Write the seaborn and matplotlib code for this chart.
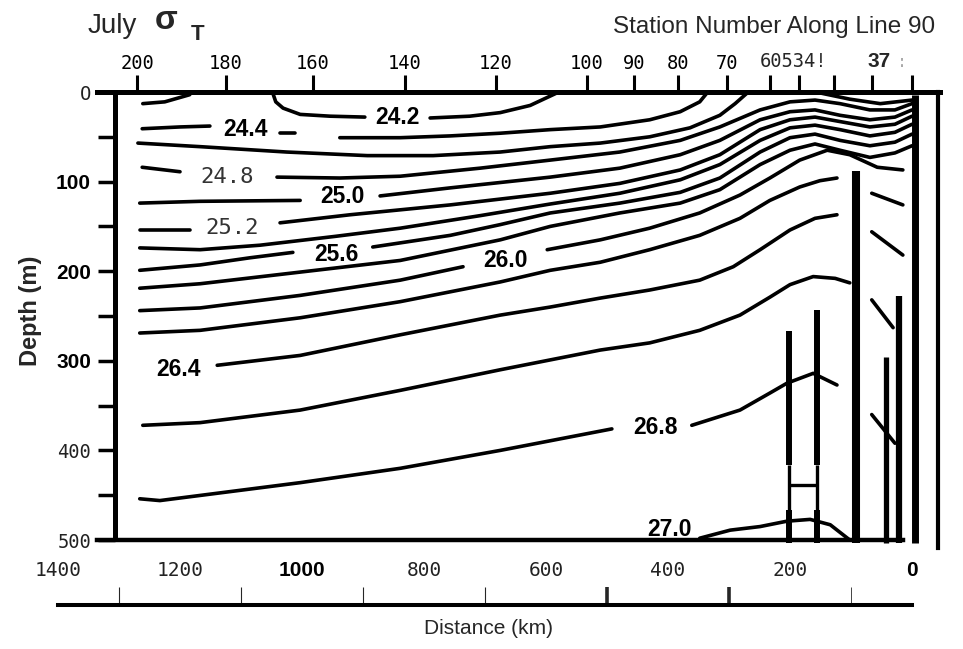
import numpy as np
import pandas as pd
import matplotlib
matplotlib.use("Agg")
import matplotlib.pyplot as plt
import seaborn as sns

nan = np.nan

# ---------------------------------------------------------------------------
# July sigma-t section along CalCOFI line 90
# distance offshore (km) and depth (m) of each isopycnal; NaN splits pieces
# ---------------------------------------------------------------------------
levels = [24.2, 24.4, 24.6, 24.8, 25.0, 25.2, 25.4, 25.6, 25.8,
          26.0, 26.2, 26.4, 26.6, 26.8, 27.0]

s242_km = [1261, 1225, 1184, nan, 1048, 1043, 1031, 1003, 954, 897, nan, 790, 725, 675, 626, 582]
s242_m = [13, 11, 3, nan, 1, 11, 18, 25, 27, 28, nan, 29, 27, 23, 15, 1]

s244_km = [1262, 1200, 1151, nan, 1036, 1011, nan, 938, 839, 757, 675, 593, 511, 430, 380, 348, 336]
s244_m = [41, 39, 38, nan, 46, 46, nan, 51, 51, 49, 46, 42, 39, 31, 22, 11, 1]

s246_km = [1269, 1167, 1025, 893, 785, 675, 593, 511, 430, 364, 315, 290, 270, nan, 151, 102, 52, 0]
s246_m = [57, 61, 67, 71, 71, 67, 61, 57, 50, 40, 26, 13, 1, nan, 1, 8, 13, 9]

s248_km = [1262, 1200, nan, 1041, 938, 839, 708, 593, 479, 380, 315, 249, 200, 159, 118, 69, 28, 0]
s248_m = [84, 89, nan, 95, 96, 94, 85, 76, 67, 54, 39, 20, 11, 9, 13, 20, 20, 13]

s250_km = [1266, 1167, 1003, nan, 872, 757, 593, 479, 380, 315, 249, 200, 159, 118, 69, 28, 0]
s250_m = [124, 122, 121, nan, 116, 107, 95, 85, 70, 54, 31, 22, 20, 26, 31, 28, 20]

s252_km = [1266, 1184, nan, 1036, 921, 757, 593, 479, 380, 315, 249, 200, 159, 118, 69, 28, 0]
s252_m = [154, 154, nan, 146, 137, 126, 113, 102, 87, 70, 42, 31, 28, 33, 39, 36, 27]

s254_km = [1266, 1167, 1069, 944, 839, 708, 593, 479, 380, 315, 249, 200, 159, 118, 69, 28, 0]
s254_m = [174, 176, 171, 161, 152, 138, 125, 113, 98, 81, 54, 40, 37, 42, 49, 45, 36]

s256_km = [1266, 1167, 1085, 1015, nan, 884, 757, 675, 593, 479, 380, 315, 249, 200, 159, 118, 69, 28, 0]
s256_m = [199, 193, 185, 179, nan, 173, 160, 148, 135, 124, 112, 96, 67, 51, 47, 54, 60, 56, 47]

s258_km = [1266, 1167, 1003, 839, 675, 593, 479, 380, 315, 249, 200, 159, 118, 69, 28, 0]
s258_m = [219, 214, 201, 188, 165, 150, 135, 124, 109, 81, 65, 58, 65, 73, 68, 60]

s260_km = [1266, 1167, 1003, 839, 736, nan, 598, 511, 430, 348, 282, 233, 184, 139, 102, 57, 15]
s260_m = [244, 241, 227, 210, 195, nan, 176, 165, 152, 135, 115, 96, 76, 65, 70, 84, 87]

s262_km = [1266, 1167, 1003, 839, 675, 593, 511, 430, 348, 282, 233, 184, 151, 123, nan, 66, 15]
s262_m = [269, 266, 252, 234, 212, 199, 190, 176, 160, 141, 121, 106, 99, 96, nan, 113, 126]

s264_km = [1139, 1003, 839, 675, 593, 511, 430, 348, 293, 249, 200, 159, 123, nan, 66, 15]
s264_m = [305, 294, 271, 249, 240, 230, 221, 210, 195, 176, 154, 141, 137, nan, 156, 182]

s266_km = [1261, 1167, 1003, 839, 675, 593, 511, 430, 348, 282, 233, 200, 162, 126, 102, nan, 66, 31]
s266_m = [372, 369, 355, 333, 310, 299, 288, 280, 266, 249, 229, 215, 206, 208, 213, nan, 232, 263]

s268_km = [1266, 1233, 1003, 839, 675, 492, nan, 361, 282, 233, 205, 162, 123, nan, 66, 28]
s268_m = [454, 456, 436, 420, 400, 376, nan, 372, 355, 336, 325, 314, 327, nan, 360, 392]

s270_km = [348, 298, 249, 205, 167, 134, 102]
s270_m = [498, 489, 485, 479, 477, 483, 500]

# contour labels: level, distance (km), depth (m), typeface
label_level = [24.2, 24.4, 24.8, 25.0, 25.2, 25.6, 26.0, 26.4, 26.8, 27.0]
label_km = [844, 1092, 1123, 934, 1115, 944, 667, 1203, 421, 397]
label_m = [28, 42, 95, 117, 152, 181, 188, 310, 375, 488]
label_mono = [False, False, True, False, True, False, False, False, False, False]

# station casts / bottom markers near the coast
cast_km = [92, -5, 21, 43]
cast_top_m = [88, 3, 228, 296]
cast_lw = [5.8, 5.0, 4.5, 3.8]
pair_km = [202, 156]
pair_top_m = [267, 243]
pair_neck_m = [416, 467]
pair_rung_m = 439
cast_floor_m = 503

# top axis: station numbers
station_km = [1270, 1125, 982, 831, 682, 533, 456, 384, 303, 233, 185, 128, 66, 0]
station_labels = ["200", "180", "160", "140", "120", "100", "90", "80", "70",
                  "", "", "", "", ""]
station_extra_text = ["60534!", "37", ":"]
station_extra_km = [195, 54, 16]

# depth axis
depth_ticks = list(range(0, 501, 50))
depth_labels = ["O", "", "100", "", "200", "", "300", "", "400", "", "500"]
depth_bold = ["100", "200", "300"]

# distance axis
dist_km = [1400, 1200, 1000, 800, 600, 400, 200, 0]
dist_labels = ["1400", "1200", "1000", "800", "600", "400", "200", "0"]
dist_bold = ["1000", "0"]
dist_minor_km = [1300, 1100, 900, 700, 500, 300, 100, 0]
dist_minor_w = [0.8, 0.8, 0.8, 0.8, 2.6, 2.6, 0.6, 3.2]
dist_minor_c = ["#555555", "#555555", "#555555", "#555555", "black", "black", "#999999", "black"]

# ---------------------------------------------------------------------------
sns.set_style("ticks")
plt.rcParams["font.family"] = ["Liberation Sans", "DejaVu Sans"]

W, H = 963, 649
fig = plt.figure(figsize=(W / 100, H / 100), dpi=100)


def fx(px):
    return px / W


def fy(py):
    return 1 - py / H


def km_at(px):
    # horizontal scale of the section: 0 km at x=912 px, 0.61 px per km
    return (912 - px) / 0.61


ax = fig.add_axes([fx(97), fy(540), (940 - 97) / W, (540 - 92) / H])
ax.patch.set_alpha(0)

series = [
    (24.2, s242_km, s242_m), (24.4, s244_km, s244_m), (24.6, s246_km, s246_m),
    (24.8, s248_km, s248_m), (25.0, s250_km, s250_m), (25.2, s252_km, s252_m),
    (25.4, s254_km, s254_m), (25.6, s256_km, s256_m), (25.8, s258_km, s258_m),
    (26.0, s260_km, s260_m), (26.2, s262_km, s262_m), (26.4, s264_km, s264_m),
    (26.6, s266_km, s266_m), (26.8, s268_km, s268_m), (27.0, s270_km, s270_m),
]
rows = []
for lev, kms, ms in series:
    piece = 0
    for k, m in zip(kms, ms):
        if np.isnan(k):
            piece += 1
            continue
        rows.append((lev, f"{lev:.1f}-{piece}", k, m))
df = pd.DataFrame(rows, columns=["sigma", "piece", "km", "m"])

sns.lineplot(data=df, x="km", y="m", units="piece", estimator=None, sort=False,
             color="black", linewidth=2.6, legend=False, ax=ax,
             solid_capstyle="round", solid_joinstyle="round")

# contour labels
for lev, k, m, mono in zip(label_level, label_km, label_m, label_mono):
    if mono:
        ax.text(k, m, f"{lev:.1f}", ha="center", va="center", fontsize=16,
                family="DejaVu Sans Mono", color="#333333")
    else:
        ax.text(k, m, f"{lev:.1f}", ha="center", va="center", fontsize=16.5,
                family="Liberation Sans", weight="bold", color="black")

# station casts
ax.vlines(cast_km, cast_top_m, cast_floor_m, colors="black",
          linewidths=cast_lw, clip_on=False)
ax.vlines(pair_km, pair_top_m, pair_neck_m[0], colors="black", linewidths=4.3)
ax.vlines(pair_km, pair_neck_m[0], pair_neck_m[1], colors="black", linewidths=2.4)
ax.vlines(pair_km, pair_neck_m[1], cast_floor_m, colors="black",
          linewidths=4.3, clip_on=False)
ax.hlines(pair_rung_m, pair_km[0], pair_km[1], colors="black", linewidths=2.4)

ax.set_xlabel("")
ax.set_ylabel("")

# frame
for s in ["top", "bottom", "left", "right"]:
    ax.spines[s].set_visible(True)
    ax.spines[s].set_color("black")
ax.spines["top"].set_linewidth(3.6)
ax.spines["bottom"].set_linewidth(3.2)
ax.spines["bottom"].set_bounds(15, 1336)
ax.spines["left"].set_linewidth(3.6)
ax.spines["left"].set_position(("data", 1307))
ax.spines["left"].set_bounds(0, 497)
ax.spines["right"].set_linewidth(3.0)
ax.spines["right"].set_position(("data", -43))
ax.spines["right"].set_bounds(0, 509)

# top axis: station numbers
ax.xaxis.tick_top()
ax.set_xticks(station_km)
ax.set_xticklabels(station_labels)
ax.tick_params(axis="x", which="major", direction="out", length=12, width=2.2,
               pad=2, labelsize=13.5, top=True, bottom=False, colors="black")
for t in ax.get_xticklabels():
    t.set_fontfamily("DejaVu Sans Mono")

# depth axis
ax.set_yticks(depth_ticks)
ax.set_yticklabels(depth_labels)
ax.tick_params(axis="y", direction="out", length=12, width=2.5, pad=5,
               left=True, right=False, colors="black")
for t, lab in zip(ax.get_yticklabels(), depth_labels):
    if lab in depth_bold:
        t.set_fontfamily("Liberation Sans")
        t.set_fontweight("bold")
        t.set_fontsize(15)
    else:
        t.set_fontfamily("DejaVu Sans Mono")
        t.set_fontsize(13.5)
        t.set_color("#222222")

ax.set_xlim(km_at(97), km_at(940))
ax.set_ylim(500, 0)

for txt, k in zip(station_extra_text, station_extra_km):
    if txt == "37":
        ax.text(k, -34, txt, ha="center", va="center", fontsize=15,
                weight="bold", family="Liberation Sans", clip_on=False)
    elif txt == ":":
        ax.text(k, -34, txt, ha="center", va="center", fontsize=12,
                color="#aaaaaa", family="DejaVu Sans Mono", clip_on=False)
    else:
        ax.text(k, -34, txt, ha="center", va="center", fontsize=13.5,
                family="DejaVu Sans Mono", clip_on=False)

# distance axis below the section
dax = fig.add_axes([fx(30), 0, (940 - 30) / W, fy(605)])
dax.patch.set_alpha(0)
for s in ["left", "right", "bottom"]:
    dax.spines[s].set_visible(False)
dax.spines["top"].set_visible(True)
dax.spines["top"].set_color("black")
dax.spines["top"].set_linewidth(2.9)
dax.spines["top"].set_bounds(0, 1400)
dax.set_yticks([])
dax.xaxis.tick_top()
dax.set_xticks(dist_km)
dax.set_xticklabels(dist_labels)
dax.set_xticks(dist_minor_km, minor=True)
dax.tick_params(axis="x", which="major", length=0, pad=18, labelsize=14,
                colors="black")
dax.tick_params(axis="x", which="minor", direction="out", length=13, width=0.8)
for t, lab in zip(dax.get_xticklabels(), dist_labels):
    if lab in dist_bold:
        t.set_fontfamily("Liberation Sans")
        t.set_fontweight("bold")
        t.set_fontsize(15)
    else:
        t.set_fontfamily("DejaVu Sans Mono")
        t.set_color("#222222")
for tick, w, c in zip(dax.xaxis.get_minor_ticks(), dist_minor_w, dist_minor_c):
    tick.tick2line.set_markeredgewidth(w)
    tick.tick2line.set_color(c)
dax.set_xlim(km_at(30), km_at(940))
dax.set_ylim(0, 1)

fig.text(fx(488), fy(629), "Distance (km)", ha="center", va="center",
         fontsize=15, family="Liberation Sans")

# titles
fig.text(fx(88), fy(33), "July", ha="left", va="baseline", fontsize=20,
         family="Liberation Sans")
fig.text(fx(155), fy(29), "σ", ha="left", va="baseline", fontsize=24,
         weight="bold", family=["Liberation Sans", "DejaVu Sans"])
fig.text(fx(191), fy(40), "T", ha="left", va="baseline", fontsize=16,
         weight="bold", family="Liberation Sans")
fig.text(fx(935), fy(33), "Station Number Along Line 90", ha="right",
         va="baseline", fontsize=17.5, family="Liberation Sans")
fig.text(fx(30), fy(311), "Depth (m)", rotation=90, ha="center", va="center",
         fontsize=17, weight="bold", family="Liberation Sans")

fig.savefig("out.png", dpi=100)
